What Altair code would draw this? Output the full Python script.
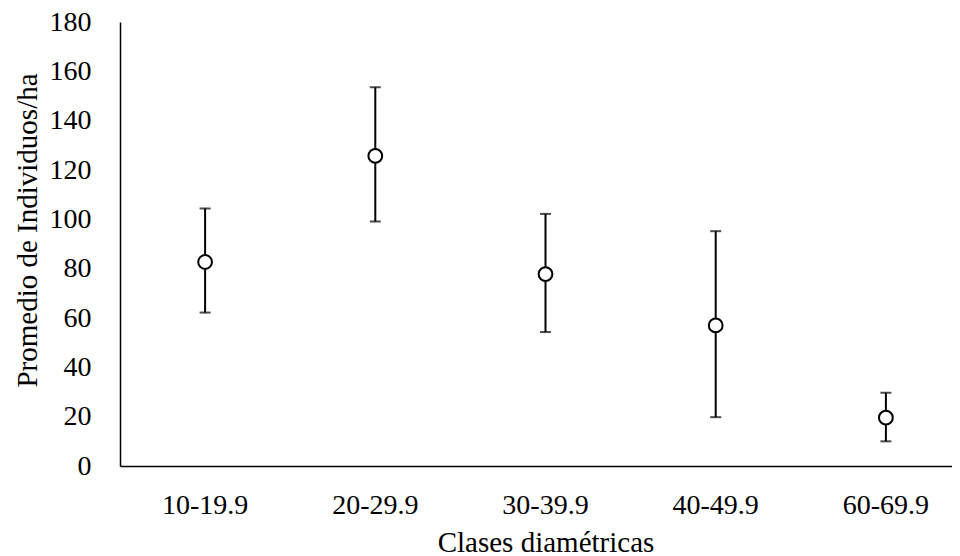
import altair as alt
import pandas as pd

categories = ["10-19.9", "20-29.9", "30-39.9", "40-49.9", "60-69.9"]
means = [82.7, 125.7, 77.8, 57.0, 19.6]
upper = [104.4, 153.5, 102.2, 95.2, 29.7]
lower = [62.2, 99.1, 54.3, 19.8, 10.0]

df = pd.DataFrame({"clase": categories, "media": means, "sup": upper, "inf": lower})

FONT = "Liberation Serif, Times New Roman, serif"

x = alt.X("clase:N", sort=categories,
          scale=alt.Scale(range=[0, 851], paddingInner=0, paddingOuter=0),
          axis=alt.Axis(title="Clases diamétricas", labelAngle=0, ticks=False,
                        labelPadding=25, titlePadding=9, domainColor="black",
                        domainWidth=1.5, labelFont=FONT, titleFont=FONT,
                        labelFontSize=28, titleFontSize=29))
y_axis = alt.Axis(title="Promedio de Individuos/ha", values=list(range(0, 181, 20)),
                  ticks=False, grid=False, labelPadding=29,
                  titleX=-84, titleY=208, titleBaseline="alphabetic", titleAngle=270,
                  domainColor="black", domainWidth=1.5, labelFont=FONT, titleFont=FONT,
                  labelFontSize=28, titleFontSize=29)

base = alt.Chart(df)

rules = base.mark_rule(color="black", strokeWidth=2).encode(
    x=x,
    y=alt.Y("inf:Q", scale=alt.Scale(domain=[0, 180], nice=False), axis=y_axis),
    y2="sup:Q",
)
caps_top = base.mark_tick(color="black", thickness=2, size=11, orient="horizontal").encode(
    x=x, y="sup:Q")
caps_bot = base.mark_tick(color="black", thickness=2, size=11, orient="horizontal").encode(
    x=x, y="inf:Q")
points = base.mark_point(shape="circle", filled=True, fill="white", stroke="black",
                         strokeWidth=2, size=190, opacity=1).encode(x=x, y="media:Q")

chart = (rules + caps_top + caps_bot + points).properties(
    width=832, height=444,
    autosize=alt.AutoSizeParams(type="none"),
    padding={"left": 112, "top": 14, "right": 0, "bottom": 90},
).configure_view(stroke=None).configure_axis(
    labelColor="black", titleColor="black", titleFontWeight="normal",
)

chart.save("out.html", embed_options={"renderer": "svg", "actions": False})
